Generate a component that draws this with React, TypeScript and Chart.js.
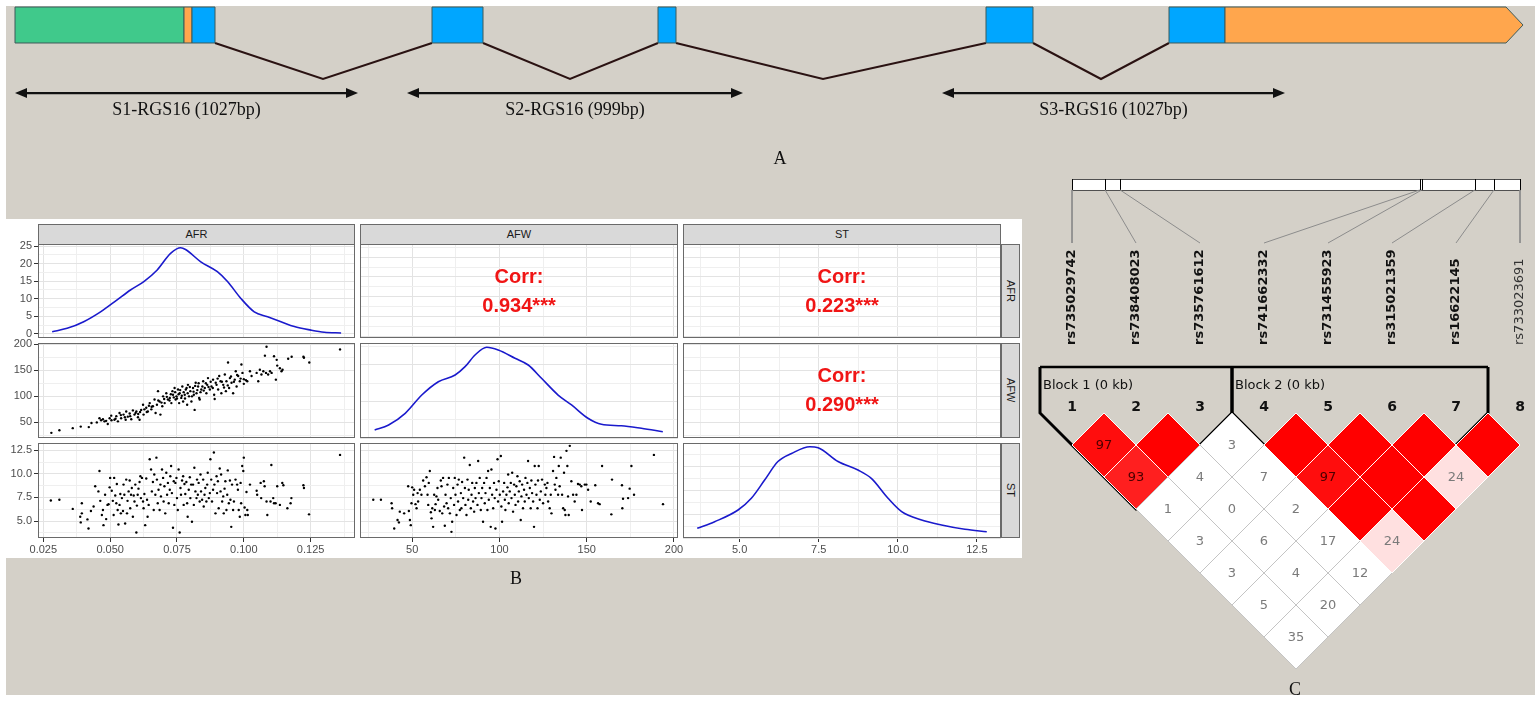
import React, { useEffect, useRef } from "react";
import { Chart, registerables } from "chart.js";

Chart.register(...registerables);

// ================= Panel A : gene structure (positions in relative units) =================
const exonStart = [0, 169, 177, 417, 643, 971, 1154, 1210];
const exonEnd = [169, 177, 200, 468, 661, 1018, 1210, 1508];
const exonType = ["nc", "utr", "cds", "cds", "cds", "cds", "cds", "utr3"];
const intronStart = [200, 468, 661, 1018];
const intronApex = [308, 555, 808, 1086];
const intronEnd = [417, 643, 971, 1154];
const ampliconStart = [0, 392, 927];
const ampliconEnd = [343, 728, 1270];
const ampliconLabel = ["S1-RGS16 (1027bp)", "S2-RGS16 (999bp)", "S3-RGS16 (1027bp)"];

// ================= Panel B : ggpairs of AFR, AFW, ST =================
const variableNames = ["AFR", "AFW", "ST"];
const corrValues = [0.934, 0.223, 0.29];
const corrStars = ["***", "***", "***"];

const afrTicks = [0.025, 0.05, 0.075, 0.1, 0.125];
const afrTickLabels = ["0.025", "0.050", "0.075", "0.100", "0.125"];
const afwTicks = [50, 100, 150, 200];
const afwTickLabels = ["50", "100", "150", "200"];
const stTicks = [5, 7.5, 10, 12.5];
const stTickLabels = ["5.0", "7.5", "10.0", "12.5"];
const afrDensTicks = [0, 5, 10, 15, 20, 25];
const afrDensTickLabels = ["0", "5", "10", "15", "20", "25"];
const afwDensTicks = [0, 5, 10];
const stDensTicks = [0, 0.05, 0.1, 0.15, 0.2];

const afrDensX = [0.0283, 0.0339, 0.0401, 0.0464, 0.0526, 0.0576, 0.0626, 0.0676, 0.0726, 0.0764, 0.0782, 0.0839, 0.0901, 0.0939, 0.0989, 0.1039, 0.1089, 0.1139, 0.1189, 0.1251, 0.1301, 0.1364];
const afrDensY = [0.65, 1.6, 3.5, 6.3, 9.7, 12.5, 14.9, 18.2, 22.9, 24.5, 24.0, 20.5, 17.7, 14.9, 10.1, 6.3, 4.9, 3.5, 2.1, 1.1, 0.5, 0.3];
const afwDensX = [28.5, 36.5, 46.0, 55.5, 65.0, 74.6, 80.3, 86.0, 92.7, 99.3, 108.9, 116.5, 124.1, 133.6, 141.3, 150.7, 158.4, 169.8, 181.3, 193.6];
const afwDensY = [1.09, 1.78, 3.38, 5.88, 7.7, 8.62, 9.76, 11.36, 12.41, 12.04, 10.91, 9.99, 8.17, 5.88, 4.52, 2.7, 1.87, 1.68, 1.33, 0.86];
const stDensX = [3.66, 4.21, 4.95, 5.37, 5.79, 6.21, 6.64, 7.22, 7.48, 8.11, 8.74, 9.17, 9.69, 10.12, 10.75, 11.38, 12.12, 12.81];
const stDensY = [0.0204, 0.0343, 0.0589, 0.0836, 0.122, 0.161, 0.178, 0.192, 0.19, 0.161, 0.143, 0.125, 0.0836, 0.0554, 0.0379, 0.0274, 0.0183, 0.0133];

const afrAfwPoints = [
  [0.028, 30], [0.031, 35], [0.036, 39], [0.039, 42], [0.042, 41], [0.043, 49], [0.045, 50], [0.046, 58], [0.0466, 54], [0.0473, 56],
  [0.0479, 52], [0.0491, 47], [0.0498, 58], [0.0504, 63], [0.0516, 55], [0.0523, 62], [0.0529, 52], [0.0535, 68], [0.0541, 58], [0.055, 65],
  [0.0558, 55], [0.056, 71], [0.0566, 61], [0.0573, 67], [0.0579, 56], [0.0585, 73], [0.0591, 65], [0.0598, 71], [0.0604, 60], [0.061, 55],
  [0.0616, 74], [0.0623, 84], [0.0625, 65], [0.0635, 78], [0.0641, 71], [0.0648, 87], [0.0654, 75], [0.066, 81], [0.0666, 94], [0.067, 68],
  [0.0675, 84], [0.0679, 110], [0.0685, 90], [0.0688, 65], [0.0695, 81], [0.0698, 100], [0.0704, 87], [0.071, 106], [0.0716, 94], [0.0723, 97],
  [0.0729, 87], [0.0733, 110], [0.0735, 103], [0.0741, 116], [0.0745, 94], [0.0748, 100], [0.0754, 113], [0.0758, 87], [0.076, 106], [0.0766, 97],
  [0.077, 119], [0.0773, 90], [0.0779, 103], [0.0783, 113], [0.0788, 84], [0.0791, 122], [0.0795, 100], [0.08, 110], [0.0804, 90], [0.081, 116],
  [0.0813, 103], [0.0816, 74], [0.082, 126], [0.0823, 106], [0.0829, 119], [0.0833, 97], [0.0835, 94], [0.0841, 113], [0.0848, 129], [0.0854, 116],
  [0.086, 106], [0.0863, 122], [0.0866, 135], [0.0873, 113], [0.0879, 119], [0.0885, 132], [0.0889, 103], [0.0891, 95], [0.0898, 122], [0.0904, 113],
  [0.0908, 139], [0.0913, 129], [0.0916, 106], [0.0923, 122], [0.0929, 142], [0.0933, 110], [0.0935, 129], [0.0941, 165], [0.0945, 116], [0.0948, 135],
  [0.0954, 126], [0.096, 106], [0.0966, 132], [0.097, 148], [0.0973, 119], [0.0979, 139], [0.0985, 129], [0.0991, 161], [0.0995, 145], [0.1, 133],
  [0.1008, 131], [0.1013, 129], [0.1023, 148], [0.1029, 139], [0.1048, 145], [0.1054, 129], [0.106, 151], [0.1066, 142], [0.1073, 148], [0.1079, 178],
  [0.1083, 145], [0.1085, 195], [0.1091, 142], [0.1098, 148], [0.1104, 145], [0.1113, 177], [0.112, 132], [0.1123, 170], [0.1125, 159], [0.1135, 154],
  [0.1141, 148], [0.1145, 151], [0.1166, 172], [0.1179, 176], [0.1223, 176], [0.1225, 174], [0.1245, 165], [0.136, 190],
  [0.0655, 80], [0.068, 92], [0.0692, 88], [0.0702, 95], [0.0712, 99], [0.0722, 92], [0.0727, 104], [0.0738, 98], [0.0743, 108], [0.075, 96],
  [0.0756, 104], [0.0762, 112], [0.0768, 101], [0.0775, 108], [0.078, 96], [0.0786, 116], [0.079, 106], [0.0798, 118], [0.0806, 100], [0.0812, 109],
  [0.0818, 120], [0.0826, 112], [0.0831, 125], [0.0838, 108], [0.0845, 119], [0.085, 111], [0.0858, 125], [0.0868, 118], [0.0876, 128], [0.0884, 116],
  [0.0895, 126], [0.0902, 134], [0.0918, 128], [0.0926, 117], [0.094, 121], [0.0952, 138], [0.0963, 128], [0.0975, 141], [0.0988, 134], [0.1, 124],
  [0.0605, 66], [0.0612, 70], [0.0628, 75], [0.0637, 70], [0.0645, 82], [0.0595, 68], [0.0575, 62], [0.0555, 60], [0.054, 64], [0.052, 57],
  [0.0505, 54], [0.0485, 53],
];

const afrStPoints = [
  [0.0278, 7.18], [0.031, 7.25], [0.036, 6.29], [0.0388, 5.46], [0.039, 4.86], [0.0394, 6.89], [0.0394, 5.82], [0.0415, 5.18], [0.0419, 4.21], [0.0428, 6.07],
  [0.0438, 6.54], [0.0444, 8.68], [0.0456, 8.14], [0.046, 10.29], [0.0463, 7.14], [0.0469, 5.64], [0.0473, 6.18], [0.0475, 4.57], [0.0481, 7.79], [0.0485, 5.21],
  [0.049, 6.71], [0.0494, 6.79], [0.0498, 8.57], [0.05, 9.57], [0.0506, 8.21], [0.051, 7.14], [0.0513, 5.64], [0.0515, 9.57], [0.0519, 7.71], [0.0523, 6.89],
  [0.0525, 8.93], [0.0528, 6.18], [0.0531, 4.64], [0.0535, 6.71], [0.0538, 7.86], [0.054, 5.82], [0.0544, 7.43], [0.0548, 6.07], [0.055, 8.86], [0.0553, 7.79],
  [0.0556, 4.75], [0.056, 9.39], [0.0563, 5.82], [0.0565, 7.14], [0.0569, 8.14], [0.0573, 9.29], [0.0575, 6.36], [0.0578, 7.79], [0.0581, 8.5], [0.0585, 5.46],
  [0.0588, 7.71], [0.0591, 7.07], [0.0594, 8.86], [0.0598, 3.79], [0.06, 6.64], [0.0603, 7.79], [0.0606, 8.43], [0.061, 9.14], [0.0613, 9.75], [0.0615, 7.43],
  [0.0619, 9.57], [0.0623, 7.07], [0.0625, 6.36], [0.0628, 7.86], [0.0631, 4.57], [0.0635, 9.5], [0.0638, 7.25], [0.064, 5.46], [0.0644, 6.71], [0.0648, 11.54],
  [0.0653, 10.46], [0.0656, 8.14], [0.066, 9.14], [0.0663, 6.18], [0.0665, 9.93], [0.0669, 7.79], [0.0673, 11.71], [0.0675, 9.39], [0.0678, 6.89], [0.0681, 8.32],
  [0.0685, 6.18], [0.0688, 8.86], [0.069, 7.61], [0.0694, 10.46], [0.0698, 9.57], [0.07, 7.07], [0.0703, 8.68], [0.0706, 5.82], [0.071, 10.11], [0.0713, 7.79],
  [0.0716, 9.04], [0.0719, 6.89], [0.0723, 8.32], [0.0725, 9.75], [0.0728, 10.82], [0.0731, 7.96], [0.0735, 4.29], [0.0738, 9.21], [0.074, 6.71], [0.0744, 9.04],
  [0.0748, 9.57], [0.075, 7.43], [0.0753, 6.18], [0.0756, 10.46], [0.076, 3.79], [0.0763, 8.5], [0.0765, 7.79], [0.0769, 9.29], [0.0773, 9.75], [0.0775, 6.71],
  [0.0778, 8.93], [0.0781, 7.86], [0.0785, 9.14], [0.0788, 6.89], [0.079, 5.46], [0.0794, 8.32], [0.0798, 9.64], [0.08, 7.43], [0.0803, 8.86], [0.0806, 4.93],
  [0.081, 8.86], [0.0813, 6.71], [0.0815, 10.64], [0.0819, 8.14], [0.0823, 7.43], [0.0825, 9.39], [0.0828, 7.79], [0.0831, 9.04], [0.0835, 7.07], [0.0838, 9.93],
  [0.084, 8.14], [0.0844, 7.25], [0.0848, 9.39], [0.085, 6.54], [0.0853, 7.79], [0.0856, 8.5], [0.086, 7.07], [0.0863, 8.86], [0.0865, 10.11], [0.0869, 7.43],
  [0.0873, 7.96], [0.0875, 11.54], [0.0878, 9.39], [0.0881, 7.07], [0.0885, 8.32], [0.0888, 12.25], [0.089, 8.86], [0.0894, 5.82], [0.0898, 9.75], [0.09, 7.96],
  [0.0903, 9.21], [0.0906, 6.36], [0.091, 10.57], [0.0913, 8.14], [0.0915, 9.93], [0.0919, 7.07], [0.0923, 7.61], [0.0925, 5.82], [0.0928, 8.43], [0.0931, 9.21],
  [0.0935, 6.18], [0.0938, 7.79], [0.094, 10.36], [0.0944, 6.89], [0.0948, 9.29], [0.095, 7.25], [0.0953, 4.39], [0.0956, 8.86], [0.096, 6.18], [0.0963, 7.07],
  [0.0969, 9.39], [0.0975, 8.86], [0.0978, 8.32], [0.0981, 6.18], [0.0985, 5.46], [0.0988, 9.04], [0.099, 6.89], [0.0994, 10.82], [0.0998, 10.29], [0.1, 11.71],
  [0.1003, 6.43], [0.1006, 5.64], [0.101, 8.07], [0.1013, 6.18], [0.1015, 5.64], [0.1023, 8.86], [0.1048, 8.21], [0.105, 7.79], [0.1063, 9.04], [0.1065, 7.43],
  [0.1075, 9.21], [0.1078, 8.68], [0.1085, 7.07], [0.1088, 5.64], [0.11, 7.07], [0.1103, 10.93], [0.111, 7.43], [0.1113, 6.89], [0.1119, 6.89], [0.1125, 8.68],
  [0.1135, 6.71], [0.1144, 9.04], [0.1148, 8.79], [0.1163, 6.36], [0.1175, 6.89], [0.1178, 7.43], [0.1223, 8.79], [0.1225, 8.5], [0.1244, 5.71], [0.136, 12.0],
];

const afwStPoints = [
  [27.7, 7.25], [32.1, 7.25], [38.2, 6.89], [38.5, 6.36], [39.7, 4.21], [41.6, 5.11], [42.4, 4.86], [42.9, 6.0], [45.4, 5.82], [47.7, 8.68],
  [48.1, 6.07], [48.7, 5.11], [49.2, 4.57], [49.6, 6.89], [50, 8.57], [50.6, 7.79], [51.1, 8.32], [51.9, 6.79], [52.5, 6.36], [53.1, 7.96],
  [53.4, 7.07], [54.4, 8.32], [55.3, 7.79], [56.3, 9.29], [57.3, 8.68], [58.2, 9.64], [58.8, 7.79], [59.2, 6.71], [59.5, 9.04], [60.1, 10.29],
  [60.7, 5.93], [61.1, 5.29], [61.5, 6.36], [62, 4.39], [62.6, 7.79], [63, 6.18], [63.4, 6.79], [63.9, 7.61], [64.5, 8.5], [64.9, 7.25],
  [65.8, 6.07], [66.4, 9.29], [66.8, 8.68], [67.2, 5.82], [67.7, 9.57], [68.3, 6.54], [68.7, 4.5], [69.1, 7.79], [69.7, 6.89], [70.2, 8.86],
  [70.6, 6.36], [71, 9.57], [71.6, 5.82], [72.1, 7.43], [72.5, 3.86], [72.9, 4.93], [73.5, 8.5], [74, 6.71], [74.4, 9.57], [74.8, 7.79],
  [75.4, 5.64], [76, 8.86], [76.3, 7.07], [76.7, 9.39], [77.3, 6.18], [77.9, 7.96], [78.2, 6.36], [78.6, 9.14], [79.2, 7.43], [79.8, 11.71],
  [80.2, 8.5], [80.5, 6.71], [81.1, 5.64], [81.7, 9.39], [82.1, 7.25], [82.4, 8.32], [83, 10.93], [83.6, 6.36], [84, 7.79], [84.4, 9.04],
  [84.9, 7.07], [85.5, 6.0], [85.9, 8.5], [86.3, 7.43], [86.8, 9.04], [87.4, 6.71], [87.8, 11.36], [88.2, 7.96], [88.7, 9.57], [89.3, 6.18],
  [89.7, 7.43], [90.1, 8.5], [90.6, 4.93], [91.2, 9.04], [91.6, 6.89], [92, 7.96], [92.6, 9.57], [93.1, 6.18], [93.5, 10.29], [93.9, 7.25],
  [94.5, 8.5], [95, 4.39], [95.4, 10.46], [95.8, 7.79], [96.4, 6.36], [96.9, 9.04], [97.3, 7.43], [97.7, 4.21], [98.3, 8.32], [98.9, 11.54],
  [99.2, 7.07], [99.6, 9.21], [100.2, 7.79], [100.8, 11.89], [101.1, 6.54], [101.5, 4.93], [102.1, 8.14], [102.7, 9.04], [103.1, 7.25], [103.4, 6.18],
  [104, 7.79], [104.6, 8.57], [105, 9.93], [105.3, 6.89], [105.9, 8.14], [106.5, 9.04], [106.9, 7.43], [107.3, 10.11], [107.8, 6.0], [108.4, 8.86],
  [108.8, 7.79], [109.2, 6.71], [109.7, 8.68], [110.3, 9.75], [110.7, 7.07], [111.1, 8.14], [111.6, 9.21], [112.2, 5.11], [112.6, 7.61], [113, 8.86],
  [113.5, 6.36], [114.1, 8.32], [114.5, 7.07], [114.9, 9.57], [115.5, 7.79], [116, 9.04], [116.4, 11.36], [116.8, 7.43], [117.4, 8.5], [117.9, 6.36],
  [118.3, 9.29], [118.7, 7.96], [119.3, 7.07], [119.8, 4.39], [120.2, 10.82], [120.6, 8.86], [121.2, 7.79], [121.8, 6.36], [122.1, 9.29], [122.5, 10.82],
  [123.1, 7.25], [123.7, 8.14], [124.4, 9.39], [125, 6.89], [126, 8.86], [126.3, 7.79], [126.9, 8.5], [127.5, 9.04], [127.9, 7.07], [128.8, 6.36],
  [129.4, 7.79], [129.8, 5.82], [130.7, 10.29], [131.3, 11.79], [131.7, 8.86], [132.1, 8.32], [132.6, 9.57], [133.6, 7.79], [134, 10.82], [134.5, 8.68],
  [135.1, 11.71], [135.9, 7.79], [136.5, 6.36], [137, 10.11], [137.4, 6.18], [137.8, 5.64], [138.4, 12.43], [138.9, 10.82], [139.3, 7.61], [139.7, 5.64],
  [140.3, 12.96], [141.2, 9.21], [142.2, 7.79], [143.1, 7.07], [144.1, 7.79], [145, 8.93], [146, 8.86], [146.9, 8.68], [147.3, 6.18], [148.9, 8.86],
  [149.8, 8.86], [150.8, 8.32], [152.3, 7.07], [154.9, 8.79], [156.5, 6.89], [157.4, 6.79], [158.8, 10.82], [164.1, 5.71], [164.5, 9.39], [170.2, 8.79],
  [170.4, 6.36], [170.8, 7.36], [173.7, 7.43], [174.6, 8.43], [175.6, 10.82], [177.1, 7.79], [188.5, 12.0], [193.7, 6.79],
];

// ================= Panel C : Haploview LD plot =================
const snpIds = ["rs735029742", "rs738408023", "rs735761612", "rs741662332", "rs731455923", "rs315021359", "rs16622145", "rs733023691"];
const snpPos = [0, 33, 48, 347, 349, 402, 421, 447];
const dprimeRows = [
  [97, 93, 1, 3, 3, 5, 35],
  [100, 4, 0, 6, 4, 20],
  [3, 7, 2, 17, 12],
  [100, 97, 100, 24],
  [100, 100, 100],
  [100, 24],
  [100],
];
const lodHighRows = [
  [1, 1, 0, 0, 0, 0, 0],
  [1, 0, 0, 0, 0, 0],
  [0, 0, 0, 0, 0],
  [1, 1, 1, 1],
  [1, 1, 1],
  [1, 1],
  [1],
];
const blockFirst = [1, 4];
const blockLast = [3, 7];
const blockLabels = ["Block 1 (0 kb)", "Block 2 (0 kb)"];

// ================= styling / layout =================
const BEIGE = "#d4d0c8";
const EXON_FILL: Record<string, string> = { nc: "#40c98b", utr: "#ffa64d", cds: "#00a6ff", utr3: "#ffa64d" };
const SANS = '"Liberation Sans", Arial, sans-serif';
const SERIF = '"Liberation Serif", "Times New Roman", serif';
const DEJAVU = '"DejaVu Sans", sans-serif';

const baseOptions = () => ({
  animation: false as const,
  responsive: false,
  maintainAspectRatio: false,
  events: [] as any[],
  plugins: { legend: { display: false }, tooltip: { enabled: false } },
});

function ChartCanvas(props: { left: number; top: number; width: number; height: number; config: () => any }) {
  const ref = useRef<HTMLCanvasElement | null>(null);
  useEffect(() => {
    if (!ref.current) return;
    const chart = new Chart(ref.current, props.config());
    return () => chart.destroy();
  }, []);
  return (
    <canvas
      ref={ref}
      width={props.width}
      height={props.height}
      style={{ position: "absolute", left: props.left, top: props.top, width: props.width, height: props.height }}
    />
  );
}

// ---------- Panel A config ----------
function panelAConfig() {
  const EXON_HALF = 1;
  const INTRON_DEPTH = 3;
  const AMP_Y = -3.78;
  const LABEL_Y = -4.72;
  const TIP = 17;
  const plugin = {
    id: "geneA",
    afterDatasetsDraw(chart: any) {
      const ctx = chart.ctx;
      const sx = (v: number) => chart.scales.x.getPixelForValue(v);
      const sy = (v: number) => chart.scales.y.getPixelForValue(v);
      ctx.save();
      exonStart.forEach((s, i) => {
        const e = exonEnd[i];
        const t = exonType[i];
        const x0 = sx(s), x1 = sx(e), yt = sy(EXON_HALF), yb = sy(-EXON_HALF), ym = sy(0);
        ctx.beginPath();
        if (t === "utr3") {
          const xt = sx(e - TIP);
          ctx.moveTo(x0, yt); ctx.lineTo(xt, yt); ctx.lineTo(x1, ym); ctx.lineTo(xt, yb); ctx.lineTo(x0, yb); ctx.closePath();
        } else {
          ctx.rect(x0, yt, x1 - x0, yb - yt);
        }
        ctx.fillStyle = EXON_FILL[t];
        ctx.fill();
        ctx.lineWidth = 1;
        ctx.strokeStyle = "#3d5a5a";
        ctx.stroke();
      });
      ampliconStart.forEach((s, i) => {
        const x0 = sx(s), x1 = sx(ampliconEnd[i]), y = sy(AMP_Y);
        ctx.strokeStyle = "#111";
        ctx.fillStyle = "#111";
        ctx.lineWidth = 2.2;
        ctx.beginPath(); ctx.moveTo(x0 + 8, y); ctx.lineTo(x1 - 8, y); ctx.stroke();
        ctx.beginPath(); ctx.moveTo(x0, y); ctx.lineTo(x0 + 12, y - 5); ctx.lineTo(x0 + 12, y + 5); ctx.closePath(); ctx.fill();
        ctx.beginPath(); ctx.moveTo(x1, y); ctx.lineTo(x1 - 12, y - 5); ctx.lineTo(x1 - 12, y + 5); ctx.closePath(); ctx.fill();
        ctx.font = `18px ${SERIF}`;
        ctx.textAlign = "center";
        ctx.textBaseline = "middle";
        ctx.fillText(ampliconLabel[i], sx((s + ampliconEnd[i]) / 2), sy(LABEL_Y));
      });
      ctx.restore();
    },
  };
  return {
    type: "scatter",
    data: {
      datasets: intronStart.map((s, i) => ({
        data: [{ x: s, y: -EXON_HALF }, { x: intronApex[i], y: -INTRON_DEPTH }, { x: intronEnd[i], y: -EXON_HALF }],
        showLine: true,
        borderColor: "#2a1212",
        borderWidth: 2,
        pointRadius: 0,
        tension: 0,
      })),
    },
    options: {
      ...baseOptions(),
      layout: { padding: 0, autoPadding: false },
      scales: {
        x: { type: "linear", display: false, min: -15, max: 1520 },
        y: { type: "linear", display: false, min: -8.056, max: 1.389 },
      },
    },
    plugins: [plugin],
  };
}

// ---------- Panel B configs ----------
type AxisSpec = { min: number; max: number; majors: number[]; labels?: string[] };

function withMinors(spec: AxisSpec) {
  const m = spec.majors;
  const step = m[1] - m[0];
  const out: number[] = [];
  for (let v = m[0] - step / 2; v <= spec.max; v += step) if (v >= spec.min) out.push(+v.toFixed(6));
  return out;
}

const afrAxis: AxisSpec = { min: 0.023, max: 0.1416, majors: afrTicks, labels: afrTickLabels };
const afwAxis: AxisSpec = { min: 20.1, max: 202.3, majors: afwTicks, labels: afwTickLabels };
const stAxis: AxisSpec = { min: 3.21, max: 13.26, majors: stTicks, labels: stTickLabels };
const afrDensAxis: AxisSpec = { min: -1.14, max: 25.57, majors: afrDensTicks, labels: afrDensTickLabels };
const afwDensAxis: AxisSpec = { min: 0, max: 13, majors: afwDensTicks };
const stDensAxis: AxisSpec = { min: 0, max: 0.2, majors: stDensTicks };

const M = 12;
const YAXIS_W = 38;
const XAXIS_H = 20;
const COLS = [{ x: 38, w: 317 }, { x: 360, w: 318 }, { x: 683, w: 318 }];
const ROWS = [{ y: 244, h: 94 }, { y: 343, h: 95 }, { y: 443, h: 95 }];

function gridScale(spec: AxisSpec, axis: "x" | "y", show: boolean) {
  const minors = withMinors(spec);
  const isMajor = (v: number) => spec.majors.some((m) => Math.abs(m - v) < 1e-9);
  return {
    type: "linear",
    position: axis === "x" ? "bottom" : "left",
    min: spec.min,
    max: spec.max,
    afterBuildTicks: (s: any) => {
      s.ticks = [...spec.majors, ...minors]
        .filter((v) => v >= spec.min && v <= spec.max)
        .sort((a, b) => a - b)
        .map((v) => ({ value: v }));
    },
    afterFit: (s: any) => {
      if (axis === "x") s.height = show ? XAXIS_H : 0;
      else s.width = show ? YAXIS_W : 0;
    },
    ticks: {
      display: show,
      autoSkip: false,
      maxRotation: 0,
      minRotation: 0,
      padding: axis === "x" ? 1 : 2,
      color: "#4d4d4d",
      font: { family: SANS, size: 11 },
      callback: (v: number) => {
        const k = spec.majors.findIndex((m) => Math.abs(m - v) < 1e-9);
        return k >= 0 && spec.labels ? spec.labels[k] : "";
      },
    },
    grid: {
      display: true,
      drawTicks: show,
      tickLength: 4,
      lineWidth: 1,
      color: (c: any) => (isMajor(c.tick ? c.tick.value : NaN) ? "#e3e3e3" : "#efefef"),
      tickColor: (c: any) => (isMajor(c.tick ? c.tick.value : NaN) ? "#333333" : "rgba(0,0,0,0)"),
    },
    border: { display: false },
  };
}

type CellSpec = {
  row: number;
  col: number;
  xs: AxisSpec;
  ys: AxisSpec;
  kind: "density" | "scatter" | "corr";
  px?: number[];
  py?: number[];
  pts?: number[][];
  corrIdx?: number;
};

const cellSpecs: CellSpec[] = [
  { row: 0, col: 0, xs: afrAxis, ys: afrDensAxis, kind: "density", px: afrDensX, py: afrDensY },
  { row: 0, col: 1, xs: afwAxis, ys: afrAxis, kind: "corr", corrIdx: 0 },
  { row: 0, col: 2, xs: stAxis, ys: afrAxis, kind: "corr", corrIdx: 1 },
  { row: 1, col: 0, xs: afrAxis, ys: afwAxis, kind: "scatter", pts: afrAfwPoints },
  { row: 1, col: 1, xs: afwAxis, ys: afwDensAxis, kind: "density", px: afwDensX, py: afwDensY },
  { row: 1, col: 2, xs: stAxis, ys: afwAxis, kind: "corr", corrIdx: 2 },
  { row: 2, col: 0, xs: afrAxis, ys: stAxis, kind: "scatter", pts: afrStPoints },
  { row: 2, col: 1, xs: afwAxis, ys: stAxis, kind: "scatter", pts: afwStPoints },
  { row: 2, col: 2, xs: stAxis, ys: stDensAxis, kind: "density", px: stDensX, py: stDensY },
];

function cellGeometry(c: CellSpec) {
  const showY = c.col === 0;
  const showX = c.row === 2;
  const left = COLS[c.col].x - M - (showY ? YAXIS_W : 0);
  const top = ROWS[c.row].y - M;
  const width = COLS[c.col].w + 2 * M + (showY ? YAXIS_W : 0);
  const height = ROWS[c.row].h + 2 * M + (showX ? XAXIS_H : 0);
  return { showX, showY, left, top, width, height };
}

function cellConfig(c: CellSpec) {
  const g = cellGeometry(c);
  const datasets: any[] = [];
  if (c.kind === "density" && c.px && c.py) {
    datasets.push({
      data: c.px.map((x, i) => ({ x, y: c.py![i] })),
      showLine: true,
      borderColor: "#1a1acc",
      borderWidth: 1.6,
      pointRadius: 0,
      cubicInterpolationMode: "monotone",
    });
  }
  if (c.kind === "scatter" && c.pts) {
    datasets.push({
      data: c.pts.map((p) => ({ x: p[0], y: p[1] })),
      showLine: false,
      pointRadius: 1.2,
      pointBorderWidth: 0,
      pointBackgroundColor: "#000000",
    });
  }
  const deco = {
    id: "cellDeco",
    afterDraw(chart: any) {
      const ctx = chart.ctx;
      const a = chart.chartArea;
      ctx.save();
      if (c.kind === "corr" && c.corrIdx !== undefined) {
        const cx = (a.left + a.right) / 2;
        const cy = (a.top + a.bottom) / 2;
        ctx.fillStyle = "#f01515";
        ctx.font = `bold 20px ${SANS}`;
        ctx.textAlign = "center";
        ctx.textBaseline = "middle";
        ctx.fillText("Corr:", cx, cy - 14);
        ctx.fillText(corrValues[c.corrIdx].toFixed(3) + corrStars[c.corrIdx], cx, cy + 15);
      }
      ctx.strokeStyle = "#6a6a6a";
      ctx.lineWidth = 1;
      ctx.strokeRect(Math.round(a.left) + 0.5, Math.round(a.top) + 0.5, Math.round(a.right - a.left) - 1, Math.round(a.bottom - a.top) - 1);
      ctx.restore();
    },
  };
  return {
    type: "scatter",
    data: { datasets },
    options: {
      ...baseOptions(),
      layout: { padding: { left: M, right: M, top: M, bottom: M }, autoPadding: false },
      scales: { x: gridScale(c.xs, "x", g.showX), y: gridScale(c.ys, "y", g.showY) },
    },
    plugins: [deco],
  };
}

// ---------- Panel C config ----------
const C_LEFT = 1000;
const C_TOP = 160;
const C_W = 535;
const C_H = 540;

function panelCConfig() {
  const BAR_TOP = -7.31;
  const BAR_BOT = -6.97;
  const LABEL_TOP = -5.3125;
  const LABEL_BASE = -2.125;
  const BLOCK_TOP = -1.4375;
  const INDEX_Y = -0.1875;
  const BLOCK_LABEL_Y = -0.84;
  const span = snpPos[snpPos.length - 1] - snpPos[0];
  const markerU = (i: number) => 1 + ((snpPos[i] - snpPos[0]) / span) * (snpIds.length - 1);

  const cells: { x: number; y: number; d: number; lod: number }[] = [];
  dprimeRows.forEach((row, i) =>
    row.forEach((d, k) => {
      const j = i + k + 1;
      cells.push({ x: (i + 1 + j + 1) / 2, y: j - i, d, lod: lodHighRows[i][k] });
    })
  );
  const cellColor = (c: { d: number; lod: number }) => {
    if (!c.lod) return "#ffffff";
    if (c.d >= 100) return "#ff0000";
    const g = Math.min(224, Math.round(223 * 2 * (1 - c.d / 100)));
    return `rgb(255,${g},${g})`;
  };

  const connectors = snpIds.map((_, i) => ({
    data: [{ x: markerU(i), y: BAR_BOT }, { x: i + 1, y: LABEL_TOP }],
    showLine: true,
    borderColor: "#8c8c8c",
    borderWidth: 1,
    pointRadius: 0,
  }));
  const diamonds = {
    data: cells.map((c) => ({ x: c.x, y: c.y })),
    showLine: false,
    pointStyle: "rectRot",
    pointRadius: 32,
    pointBackgroundColor: cells.map(cellColor),
    pointBorderColor: cells.map((c) => (c.lod ? "#ffffff" : "#c4c4c4")),
    pointBorderWidth: 1,
    clip: false,
  };
  const outlines = blockFirst.map((a, b) => {
    const z = blockLast[b];
    return {
      data: [
        { x: a - 0.5, y: BLOCK_TOP },
        { x: a - 0.5, y: 0 },
        { x: (a + z) / 2, y: z - a + 1 },
        { x: z + 0.5, y: 0 },
        { x: z + 0.5, y: BLOCK_TOP },
      ],
      showLine: true,
      borderColor: "#000000",
      borderWidth: 3,
      pointRadius: 0,
      borderJoinStyle: "miter",
      clip: false,
    };
  });
  const topLine = {
    data: [{ x: blockFirst[0] - 0.5, y: BLOCK_TOP }, { x: blockLast[blockLast.length - 1] + 0.5, y: BLOCK_TOP }],
    showLine: true,
    borderColor: "#000000",
    borderWidth: 2.5,
    pointRadius: 0,
    clip: false,
  };

  const plugin = {
    id: "ldDeco",
    beforeDatasetsDraw(chart: any) {
      const ctx = chart.ctx;
      const sx = (v: number) => chart.scales.x.getPixelForValue(v);
      const sy = (v: number) => chart.scales.y.getPixelForValue(v);
      ctx.save();
      const x0 = sx(1), x1 = sx(snpIds.length), y0 = sy(BAR_TOP), y1 = sy(BAR_BOT);
      ctx.fillStyle = "#ffffff";
      ctx.fillRect(x0, y0, x1 - x0, y1 - y0);
      ctx.strokeStyle = "#505050";
      ctx.lineWidth = 1;
      ctx.strokeRect(Math.round(x0) + 0.5, Math.round(y0) + 0.5, Math.round(x1 - x0), Math.round(y1 - y0));
      ctx.strokeStyle = "#000";
      snpIds.forEach((_, i) => {
        const px = Math.round(sx(markerU(i))) + 0.5;
        ctx.beginPath(); ctx.moveTo(px, y0); ctx.lineTo(px, y1); ctx.stroke();
      });
      ctx.restore();
    },
    afterDatasetsDraw(chart: any) {
      const ctx = chart.ctx;
      const sx = (v: number) => chart.scales.x.getPixelForValue(v);
      const sy = (v: number) => chart.scales.y.getPixelForValue(v);
      ctx.save();
      snpIds.forEach((id, i) => {
        ctx.save();
        ctx.translate(sx(i + 1), sy(LABEL_BASE));
        ctx.rotate(-Math.PI / 2);
        const last = i === snpIds.length - 1;
        ctx.font = `${last ? "" : "bold "}13px ${DEJAVU}`;
        ctx.fillStyle = last ? "#333333" : "#111111";
        ctx.textAlign = "left";
        ctx.textBaseline = "middle";
        ctx.fillText(id, 0, 0);
        ctx.restore();
      });
      ctx.font = `bold 14px ${DEJAVU}`;
      ctx.fillStyle = "#111";
      ctx.textAlign = "center";
      ctx.textBaseline = "middle";
      snpIds.forEach((_, i) => ctx.fillText(String(i + 1), sx(i + 1), sy(INDEX_Y)));
      ctx.font = `13px ${DEJAVU}`;
      ctx.textAlign = "left";
      blockLabels.forEach((t, b) => ctx.fillText(t, sx(blockFirst[b] - 0.5) + 3, sy(BLOCK_LABEL_Y)));
      ctx.font = `13px ${DEJAVU}`;
      ctx.textAlign = "center";
      cells.forEach((c) => {
        if (c.d >= 100) return;
        ctx.fillStyle = c.lod && c.d > 50 ? "#4a0000" : "#7a7a7a";
        ctx.fillText(String(c.d), sx(c.x), sy(c.y) + 1);
      });
      ctx.restore();
    },
  };

  return {
    type: "scatter",
    data: { datasets: [...connectors, diamonds, ...outlines, topLine] },
    options: {
      ...baseOptions(),
      layout: { padding: 0, autoPadding: false },
      scales: {
        x: { type: "linear", display: false, min: -0.125, max: 8.234375 },
        y: { type: "linear", display: false, reverse: true, min: -7.90625, max: 8.96875 },
      },
    },
    plugins: [plugin],
  };
}

function Letter(props: { x: number; y: number; text: string }) {
  return (
    <div
      style={{
        position: "absolute",
        left: props.x,
        top: props.y,
        transform: "translate(-50%, -50%)",
        font: `18px ${SERIF}`,
        color: "#111",
        whiteSpace: "nowrap",
      }}
    >
      {props.text}
    </div>
  );
}

export default function App() {
  useEffect(() => {
    document.body.style.margin = "0";
  }, []);
  return (
    <div style={{ position: "absolute", left: 0, top: 0, width: 1535, height: 702, background: "#ffffff", overflow: "hidden" }}>
      <div style={{ position: "absolute", left: 6, top: 6, width: 1529, height: 689, background: BEIGE }} />
      <ChartCanvas left={0} top={0} width={1535} height={170} config={panelAConfig} />
      <Letter x={780} y={158} text="A" />

      <div style={{ position: "absolute", left: 6, top: 219, width: 1016, height: 339, background: "#ffffff" }} />
      {variableNames.map((n, i) => (
        <div
          key={"ts" + n}
          style={{
            position: "absolute",
            left: COLS[i].x,
            top: 224,
            width: COLS[i].w,
            height: 21,
            boxSizing: "border-box",
            border: "1px solid #6a6a6a",
            background: "#d9d9d9",
            font: `11px ${SANS}`,
            color: "#1a1a1a",
            textAlign: "center",
            lineHeight: "19px",
          }}
        >
          {n}
        </div>
      ))}
      {variableNames.map((n, i) => (
        <div
          key={"rs" + n}
          style={{
            position: "absolute",
            left: 1001,
            top: ROWS[i].y,
            width: 19,
            height: ROWS[i].h,
            boxSizing: "border-box",
            border: "1px solid #6a6a6a",
            background: "#d9d9d9",
            font: `11px ${SANS}`,
            color: "#1a1a1a",
            display: "flex",
            alignItems: "center",
            justifyContent: "center",
          }}
        >
          <span style={{ writingMode: "vertical-rl" }}>{n}</span>
        </div>
      ))}
      {cellSpecs.map((c) => {
        const g = cellGeometry(c);
        return <ChartCanvas key={`c${c.row}${c.col}`} left={g.left} top={g.top} width={g.width} height={g.height} config={() => cellConfig(c)} />;
      })}
      <Letter x={516} y={578} text="B" />

      <ChartCanvas left={C_LEFT} top={C_TOP} width={C_W} height={C_H} config={panelCConfig} />
      <Letter x={1295} y={689} text="C" />
    </div>
  );
}
